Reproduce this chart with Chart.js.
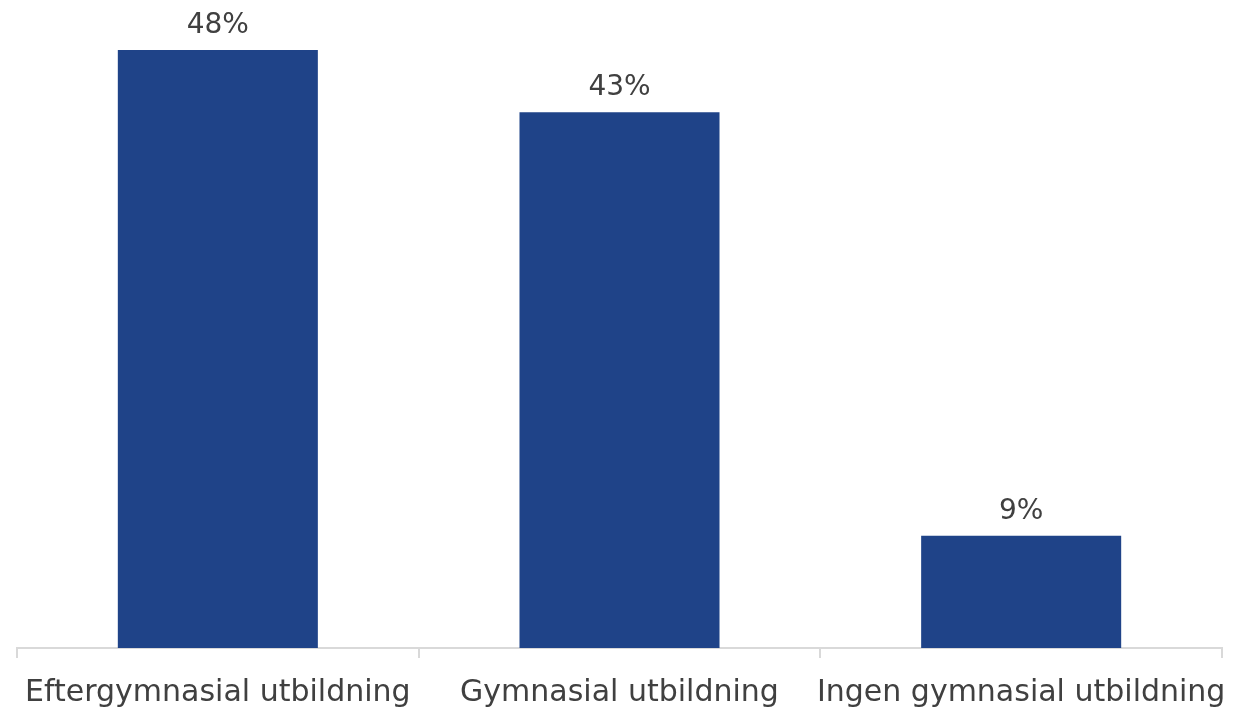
<!DOCTYPE html>
<html>
<head>
<meta charset="utf-8">
<script src="https://cdn.jsdelivr.net/npm/chart.js@4/dist/chart.umd.min.js"></script>
<style>
  html, body { margin: 0; padding: 0; background: #fff; }
  #wrap { width: 1233px; height: 711px; }
</style>
</head>
<body>
<div id="wrap"><canvas id="chart"></canvas></div>
<script>
// Chart data
const categories = ['Eftergymnasial utbildning', 'Gymnasial utbildning', 'Ingen gymnasial utbildning'];
const shares = [48, 43, 9];

const textColor = '#404040';
const fontFamily = '"DejaVu Sans", sans-serif';

// Draw value labels above bars
const valueLabels = {
  id: 'valueLabels',
  afterDatasetsDraw(chart) {
    const ctx = chart.ctx;
    const meta = chart.getDatasetMeta(0);
    ctx.save();
    ctx.fillStyle = textColor;
    ctx.font = '28px ' + fontFamily;
    ctx.textAlign = 'center';
    ctx.textBaseline = 'alphabetic';
    meta.data.forEach((bar, i) => {
      ctx.fillText(shares[i] + '%', bar.x, bar.y - 17);
    });
    ctx.restore();
  }
};

new Chart(document.getElementById('chart'), {
  type: 'bar',
  data: {
    labels: categories,
    datasets: [{
      data: shares,
      backgroundColor: '#1F4388',
      categoryPercentage: 1,
      barPercentage: 0.498
    }]
  },
  options: {
    responsive: true,
    maintainAspectRatio: false,
    animation: false,
    layout: { padding: { left: 17, right: 11, top: 25, bottom: 0 } },
    plugins: {
      legend: { display: false },
      tooltip: { enabled: false }
    },
    scales: {
      x: {
        grid: {
          offset: true,
          drawOnChartArea: false,
          drawTicks: true,
          tickLength: 10,
          color: '#D9D9D9',
          lineWidth: 2
        },
        border: { display: true, color: '#D9D9D9', width: 2 },
        ticks: {
          color: textColor,
          font: { family: fontFamily, size: 30 },
          padding: 17,
          maxRotation: 0,
          autoSkip: false
        },
        afterFit(scale) {
          scale.height = 63;
          scale.paddingLeft = 0;
          scale.paddingRight = 0;
        }
      },
      y: {
        display: false,
        min: 0,
        max: 50
      }
    }
  },
  plugins: [valueLabels]
});
</script>
</body>
</html>
